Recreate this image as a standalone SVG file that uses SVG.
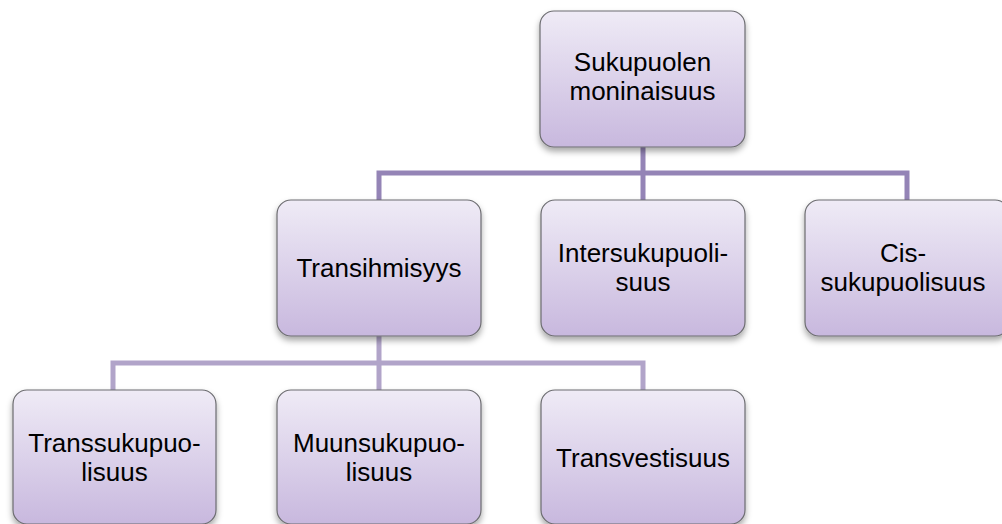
<svg xmlns="http://www.w3.org/2000/svg" width="1002" height="524" viewBox="0 0 1002 524">
<defs>
<linearGradient id="g" x1="0" y1="0" x2="0" y2="1">
<stop offset="0" stop-color="#efebf6"/>
<stop offset="1" stop-color="#c8b8de"/>
</linearGradient>
<filter id="sh" x="-10%" y="-10%" width="120%" height="130%">
<feDropShadow dx="0" dy="4" stdDeviation="3" flood-color="#000" flood-opacity="0.35"/>
</filter>
</defs>
<style>
.box{fill:url(#g);stroke:#6c6c70;stroke-width:1.2;filter:url(#sh)}
.t{font-family:"Liberation Sans",Arial,sans-serif;font-size:26px;fill:#000;text-anchor:middle}
.c1{fill:none;stroke:#9484b6;stroke-width:5}
.c2{fill:none;stroke:#b1a4c9;stroke-width:5}
</style>
<rect width="1002" height="524" fill="#fff"/>
<g id="connectors">
<path class="c1" d="M643 147V173M379 200V173H907V200M643 173V200"/>
<path class="c2" d="M379 336V363M113 390V363H643V390M379 363V390"/>
</g>
<g id="n-root"><rect class="box" x="540" y="11" width="205" height="136" rx="14"/><text class="t" x="642.5" y="71">Sukupuolen</text><text class="t" x="642.5" y="100">moninaisuus</text></g>
<g id="n-trans"><rect class="box" x="277" y="200" width="204" height="136" rx="14"/><text class="t" x="379" y="277">Transihmisyys</text></g>
<g id="n-inter"><rect class="box" x="541" y="200" width="204" height="136" rx="14"/><text class="t" x="643" y="262">Intersukupuoli-</text><text class="t" x="643" y="291">suus</text></g>
<g id="n-cis"><rect class="box" x="805" y="200" width="204" height="136" rx="14"/><text class="t" x="903" y="262">Cis-</text><text class="t" x="903" y="291">sukupuolisuus</text></g>
<g id="n-transsu"><rect class="box" x="13" y="390" width="203" height="134" rx="14"/><text class="t" x="114.5" y="452">Transsukupuo-</text><text class="t" x="114.5" y="481">lisuus</text></g>
<g id="n-muun"><rect class="box" x="277" y="390" width="204" height="134" rx="14"/><text class="t" x="379" y="452">Muunsukupuo-</text><text class="t" x="379" y="481">lisuus</text></g>
<g id="n-transv"><rect class="box" x="541" y="390" width="204" height="134" rx="14"/><text class="t" x="643" y="467">Transvestisuus</text></g>
</svg>
